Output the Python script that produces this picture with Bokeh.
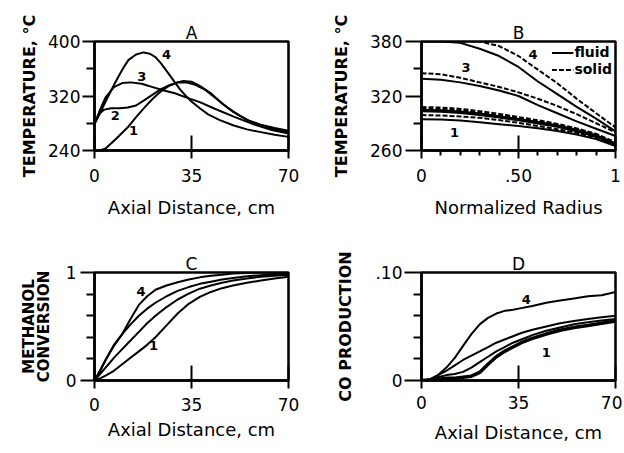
from bokeh.plotting import figure
from bokeh.models import Range1d, FixedTicker, Legend, LegendItem
from bokeh.layouts import gridplot
from bokeh.core.properties import value
from bokeh.embed import file_html
from bokeh.resources import INLINE

# ---------------- data ----------------
# Panel A: temperature vs axial distance
A_x1 = [2, 4, 8, 12, 15, 18, 21, 24, 27, 30, 32, 35, 38, 42, 46, 50, 55, 60, 65, 70]
A_T1 = [240, 243, 258, 274, 289, 303, 316, 327, 335, 340, 342, 341, 335, 324, 309, 297, 285, 278, 273, 269]
A_x2 = [0, 1, 2, 3.5, 6, 9, 12, 15, 18, 21, 24, 27, 30, 33, 36, 40, 44, 48, 52, 56, 60, 65, 70]
A_T2 = [279, 288, 295, 300, 302, 302, 303, 306, 314, 322, 330, 336, 340, 340, 337, 329, 316, 303, 292, 283, 277, 271, 267]
A_x3 = [0, 2, 4, 7, 10, 13, 17, 21, 25, 29, 33, 38, 43, 50, 57, 64, 70]
A_T3 = [279, 300, 318, 333, 339, 340, 338, 333, 328, 324, 318, 311, 302, 290, 279, 270, 265]
A_x4 = [0, 2, 4, 6.5, 8.7, 10.5, 12.3, 15, 17.7, 20, 22, 24, 26, 29, 31, 33, 35, 38, 41, 45, 50, 55, 60, 65, 70]
A_T4 = [279, 295, 312, 332, 349, 362, 373, 381, 384, 382, 377, 368, 357, 340, 329, 320, 312, 302, 293, 285, 277, 271, 267, 263, 260]
A_lab_x = [14.1, 7.5, 17.1, 26]
A_lab_y = [269, 291, 348, 381]
A_lab = ["1", "2", "3", "4"]

# Panel B: temperature vs normalized radius (fluid / solid)
B_r = [0, 0.1, 0.2, 0.3, 0.4, 0.5, 0.6, 0.7, 0.8, 0.9, 1.0]
B_f1 = [294.5, 294, 293, 291, 289, 287, 284.5, 281.5, 277.5, 272.5, 265]
B_s1 = [299, 298.5, 297.5, 296, 293.5, 290.5, 287, 283.5, 279.5, 274, 266]
B_f2 = [304, 303.5, 302, 300, 297, 294, 290.5, 287, 282, 276, 267]
B_s2 = [307, 306.5, 305, 302.5, 299.5, 296, 292.5, 288.5, 283.5, 277.5, 268]
B_f3 = [339, 338, 335, 331, 326, 320, 310, 301, 292, 284, 276]
B_s3 = [345, 344, 340, 335, 330, 324, 317, 309, 300, 290, 280]
B_f4 = [380, 380, 378.5, 372, 364, 352, 336, 322, 308, 295, 281]
B_s4 = [380, 380, 380, 380, 375, 364, 349, 334, 317, 301, 285.5]
B_lab_x = [0.17, 0.23, 0.575]
B_lab_y = [280, 351, 366]
B_lab = ["1", "3", "4"]

# Panel C: methanol conversion vs axial distance
C_x = [0, 2, 4, 7, 10, 13, 16, 19, 22, 26, 30, 34, 38, 42, 46, 50, 55, 60, 65, 70]
C_1 = [0, 0.02, 0.045, 0.09, 0.15, 0.21, 0.27, 0.33, 0.40, 0.51, 0.62, 0.71, 0.775, 0.82, 0.855, 0.88, 0.905, 0.925, 0.945, 0.96]
C_2 = [0, 0.06, 0.12, 0.21, 0.29, 0.37, 0.45, 0.53, 0.60, 0.68, 0.75, 0.805, 0.85, 0.88, 0.905, 0.925, 0.945, 0.96, 0.97, 0.98]
C_3 = [0, 0.09, 0.19, 0.32, 0.43, 0.52, 0.60, 0.665, 0.72, 0.78, 0.83, 0.865, 0.895, 0.915, 0.935, 0.95, 0.965, 0.975, 0.985, 0.99]
C_4 = [0, 0.09, 0.19, 0.33, 0.43, 0.57, 0.70, 0.78, 0.84, 0.88, 0.91, 0.935, 0.955, 0.97, 0.98, 0.99, 0.995, 1.0, 1.0, 1.0]
C_lab_x = [21.3, 16.8]
C_lab_y = [0.32, 0.82]
C_lab = ["1", "4"]

# Panel D: CO production vs axial distance
D_x = [0, 3, 6, 9, 12, 15, 18, 21, 24, 27, 30, 33, 36, 40, 45, 50, 55, 60, 65, 70]
D_1 = [0, 0.0005, 0.001, 0.002, 0.002, 0.003, 0.004, 0.0075, 0.015, 0.022, 0.027, 0.031, 0.035, 0.039, 0.043, 0.0465, 0.049, 0.051, 0.053, 0.055]
D_2 = [0, 0.001, 0.003, 0.005, 0.006, 0.008, 0.012, 0.017, 0.022, 0.027, 0.031, 0.035, 0.038, 0.042, 0.046, 0.049, 0.052, 0.054, 0.0555, 0.057]
D_3 = [0, 0.001, 0.005, 0.009, 0.014, 0.019, 0.023, 0.027, 0.031, 0.035, 0.038, 0.041, 0.044, 0.047, 0.050, 0.053, 0.055, 0.057, 0.0585, 0.060]
D_4 = [0, 0.001, 0.005, 0.012, 0.021, 0.032, 0.043, 0.052, 0.058, 0.062, 0.0645, 0.0655, 0.067, 0.069, 0.072, 0.074, 0.076, 0.078, 0.079, 0.082]
D_lab_x = [45, 37.8]
D_lab_y = [0.026, 0.0754]
D_lab = ["1", "4"]

# ticks
X_ticks = [0, 35, 70]
X_labels = ["0", "35", "70"]
A_yticks = [240, 320, 400]
A_yminor = [280, 360]
B_xticks = [0, 0.5, 1]
B_xlabels = ["0", ".50", "1"]
B_xminor = [0.1, 0.2, 0.3, 0.4, 0.6, 0.7, 0.8, 0.9]
B_yticks = [260, 320, 380]
B_yminor = [290, 350]
C_yticks = [0, 1]
C_yminor = [0.2, 0.4, 0.6, 0.8]
D_yticks = [0, 0.1]
D_ylabels = ["0", ".10"]
D_yminor = [0.02, 0.04, 0.06, 0.08]

FONT = "DejaVu Sans"


def make_fig(w, h, xr, yr, bl, br, bt, bb, title):
    p = figure(width=w, height=h, x_range=Range1d(*xr), y_range=Range1d(*yr),
               output_backend="svg", toolbar_location=None,
               min_border_left=bl, min_border_right=br,
               min_border_top=bt, min_border_bottom=bb, title=title)
    p.grid.visible = False
    p.outline_line_color = "black"
    p.outline_line_width = 2.5
    p.outline_line_alpha = 1.0
    p.background_fill_color = "white"
    p.border_fill_color = "white"
    p.title.align = "center"
    p.title.text_font = FONT
    p.title.text_font_size = "17px"
    p.title.text_font_style = "normal"
    p.title.text_color = "black"
    p.title.standoff = -2
    return p


def style_x(p, ticks, labels, minor, label, tick_standoff, label_standoff):
    ax = p.xaxis[0]
    ax.ticker = FixedTicker(ticks=ticks, minor_ticks=minor)
    ax.major_label_overrides = dict(zip(ticks, labels))
    ax.major_tick_in = 15
    ax.major_tick_out = 8
    ax.minor_tick_in = 0
    ax.minor_tick_out = 5
    ax.major_tick_line_width = 2
    ax.minor_tick_line_width = 2
    ax.axis_line_width = 2.5
    ax.axis_line_color = "black"
    ax.major_tick_line_color = "black"
    ax.minor_tick_line_color = "black"
    ax.major_label_text_font = FONT
    ax.major_label_text_font_size = "17px"
    ax.major_label_text_color = "black"
    ax.major_label_standoff = tick_standoff
    ax.axis_label = label
    ax.axis_label_text_font = FONT
    ax.axis_label_text_font_size = "18px"
    ax.axis_label_text_font_style = "normal"
    ax.axis_label_text_color = "black"
    ax.axis_label_standoff = label_standoff


def style_y(p, ticks, labels, minor, label, tick_out, tick_standoff, label_standoff,
            label_size="16px", line_height=1.0):
    ax = p.yaxis[0]
    ax.ticker = FixedTicker(ticks=ticks, minor_ticks=minor)
    ax.major_label_overrides = dict(zip(ticks, labels))
    ax.major_tick_in = 0
    ax.major_tick_out = tick_out
    ax.minor_tick_in = 0
    ax.minor_tick_out = 8
    ax.major_tick_line_width = 2
    ax.minor_tick_line_width = 2
    ax.axis_line_width = 2.5
    ax.axis_line_color = "black"
    ax.major_tick_line_color = "black"
    ax.minor_tick_line_color = "black"
    ax.major_label_text_font = FONT
    ax.major_label_text_font_size = "17px"
    ax.major_label_text_color = "black"
    ax.major_label_standoff = tick_standoff
    ax.axis_label = label
    ax.axis_label_text_font = FONT
    ax.axis_label_text_font_size = label_size
    ax.axis_label_text_font_style = "bold"
    ax.axis_label_text_color = "black"
    ax.axis_label_text_line_height = line_height
    ax.axis_label_standoff = label_standoff


def curve_labels(p, xs, ys, texts):
    p.text(x=xs, y=ys, text=texts, text_font=value(FONT), text_font_style="bold",
           text_font_size="13px", text_align="center", text_baseline="middle",
           text_color="black")


LW = 2

# ---------------- Panel A ----------------
pA = make_fig(312, 226, (0, 70), (240, 400), 94, 23, 41, 76, "A")
pA.line(A_x1, A_T1, line_color="black", line_width=LW)
pA.line(A_x2, A_T2, line_color="black", line_width=LW)
pA.line(A_x3, A_T3, line_color="black", line_width=LW)
pA.line(A_x4, A_T4, line_color="black", line_width=LW)
curve_labels(pA, A_lab_x, A_lab_y, A_lab)
style_x(pA, X_ticks, X_labels, [], "Axial Distance, cm", 10, 12)
style_y(pA, A_yticks, [str(t) for t in A_yticks], A_yminor, "TEMPERATURE, °C", 12, 2, 6)

# ---------------- Panel B ----------------
pB = make_fig(310, 226, (0, 1), (260, 380), 109, 6, 41, 76, "B")
DASH = "5 2"
pB.line(B_r, B_f1, line_color="black", line_width=LW)
pB.line(B_r, B_s1, line_color="black", line_width=LW, line_dash=DASH)
pB.line(B_r, B_f2, line_color="black", line_width=3.5)
pB.line(B_r, B_s2, line_color="black", line_width=3.5, line_dash=DASH)
pB.line(B_r, B_f3, line_color="black", line_width=LW)
pB.line(B_r, B_s3, line_color="black", line_width=LW, line_dash=DASH)
rf4 = pB.line(B_r, B_f4, line_color="black", line_width=LW)
rs4 = pB.line(B_r, B_s4, line_color="black", line_width=LW, line_dash=DASH)
curve_labels(pB, B_lab_x, B_lab_y, B_lab)
legend = Legend(items=[LegendItem(label="fluid", renderers=[rf4]),
                       LegendItem(label="solid", renderers=[rs4])],
                location="top_right", margin=3, padding=0, spacing=1,
                glyph_width=22, glyph_height=15, label_height=15, label_standoff=1,
                label_text_font=FONT, label_text_font_size="14px",
                label_text_font_style="bold", label_text_color="black",
                background_fill_alpha=0, border_line_alpha=0)
pB.add_layout(legend)
style_x(pB, B_xticks, B_xlabels, B_xminor, "Normalized Radius", 10, 12)
style_y(pB, B_yticks, [str(t) for t in B_yticks], B_yminor, "TEMPERATURE, °C", 16, 3, 16)

# ---------------- Panel C ----------------
pC = make_fig(312, 226, (0, 70), (0, 1), 92, 24, 46, 72, "C")
pC.line(C_x, C_1, line_color="black", line_width=LW)
pC.line(C_x, C_2, line_color="black", line_width=LW)
pC.line(C_x, C_3, line_color="black", line_width=LW)
pC.line(C_x, C_4, line_color="black", line_width=LW)
curve_labels(pC, C_lab_x, C_lab_y, C_lab)
style_x(pC, X_ticks, X_labels, [], "Axial Distance, cm", 9, 5)
style_y(pC, C_yticks, [str(t) for t in C_yticks], C_yminor, "METHANOL\nCONVERSION", 14, 4, 10,
        label_size="15px", line_height=0.8)

# ---------------- Panel D ----------------
pD = make_fig(310, 226, (0, 70), (0, 0.1), 107, 7, 46, 72, "D")
pD.line(D_x, D_1, line_color="black", line_width=3.5)
pD.line(D_x, D_2, line_color="black", line_width=LW)
pD.line(D_x, D_3, line_color="black", line_width=LW)
pD.line(D_x, D_4, line_color="black", line_width=LW)
curve_labels(pD, D_lab_x, D_lab_y, D_lab)
style_x(pD, X_ticks, X_labels, [], "Axial Distance, cm", 7, 10)
style_y(pD, D_yticks, D_ylabels, D_yminor, "CO PRODUCTION", 17, 2, 17)

grid = gridplot([[pA, pB], [pC, pD]], toolbar_location=None)

open("out.html", "w").write(file_html(grid, INLINE))
